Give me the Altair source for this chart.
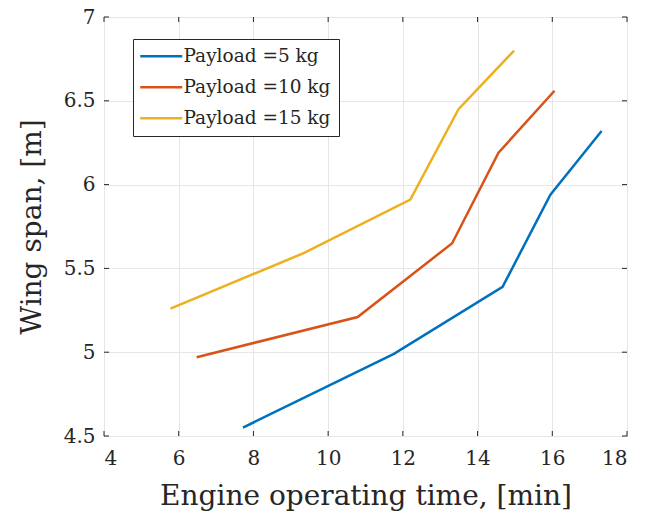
import altair as alt
import pandas as pd

series_names = ["Payload =5 kg", "Payload =10 kg", "Payload =15 kg"]
x_5 = [7.72, 11.76, 14.67, 15.95, 17.32]
y_5 = [4.55, 4.99, 5.39, 5.94, 6.32]
x_10 = [6.48, 10.79, 13.32, 14.56, 16.06]
y_10 = [4.97, 5.21, 5.65, 6.19, 6.56]
x_15 = [5.78, 9.33, 12.20, 13.49, 14.98]
y_15 = [5.26, 5.59, 5.91, 6.45, 6.80]
colors = ["#0072BD", "#D95319", "#EDB120"]
x_ticks = [4, 6, 8, 10, 12, 14, 16, 18]
y_ticks = [4.5, 5, 5.5, 6, 6.5, 7]

rows = []
for name, xs, ys in zip(series_names, [x_5, x_10, x_15], [y_5, y_10, y_15]):
    for i, (a, b) in enumerate(zip(xs, ys)):
        rows.append({"series": name, "t": a, "span": b, "order": i})
df = pd.DataFrame(rows)

W, H = 523, 419
FONT = "DejaVu Serif"

xscale = alt.Scale(domain=[4, 18], nice=False, zero=False)
yscale = alt.Scale(domain=[4.5, 7], nice=False, zero=False)

lines = alt.Chart(df).mark_line(strokeWidth=2.5).encode(
    x=alt.X("t:Q", scale=xscale,
            axis=alt.Axis(title="Engine operating time, [min]", values=x_ticks,
                          tickSize=0, labelPadding=12, titlePadding=14,
                          labelFontSize=20, titleFontSize=28,
                          labelFont=FONT, titleFont=FONT, titleFontWeight="normal",
                          labelColor="#262626", titleColor="#262626",
                          gridColor="#e6e6e6", domain=False)),
    y=alt.Y("span:Q", scale=yscale,
            axis=alt.Axis(title="Wing span, [m]", values=y_ticks, format="~g",
                          tickSize=0, labelPadding=9, titlePadding=17,
                          labelFontSize=20, titleFontSize=28,
                          labelFont=FONT, titleFont=FONT, titleFontWeight="normal",
                          labelColor="#262626", titleColor="#262626",
                          gridColor="#e6e6e6", domain=False)),
    color=alt.Color("series:N", sort=series_names,
                    scale=alt.Scale(domain=series_names, range=colors),
                    legend=alt.Legend(title=None, orient="none", legendX=29, legendY=22,
                                      symbolType="M-3,0H3", symbolSize=196,
                                      symbolStrokeWidth=2.5, symbolOffset=11,
                                      labelFontSize=18.5,
                                      labelFont=FONT, labelColor="#262626",
                                      strokeColor="#262626", fillColor="white",
                                      padding=8, rowPadding=12, labelOffset=13,
                                      labelLimit=300)),
    order="order:Q",
)

xt = pd.DataFrame({"v": x_ticks})
yt = pd.DataFrame({"v": y_ticks})
tick_color = "#262626"
xt_bottom = alt.Chart(xt).mark_rule(color=tick_color, strokeWidth=1).encode(
    x=alt.X("v:Q", scale=xscale), y=alt.value(H), y2=alt.value(H - 5))
xt_top = alt.Chart(xt).mark_rule(color=tick_color, strokeWidth=1).encode(
    x=alt.X("v:Q", scale=xscale), y=alt.value(0), y2=alt.value(5))
yt_left = alt.Chart(yt).mark_rule(color=tick_color, strokeWidth=1).encode(
    y=alt.Y("v:Q", scale=yscale), x=alt.value(0), x2=alt.value(5))
yt_right = alt.Chart(yt).mark_rule(color=tick_color, strokeWidth=1).encode(
    y=alt.Y("v:Q", scale=yscale), x=alt.value(W), x2=alt.value(W - 5))

chart = alt.layer(xt_bottom, xt_top, yt_left, yt_right, lines).properties(
    width=W, height=H,
    autosize=alt.AutoSizeParams(type="none"),
    padding={"left": 96, "top": 9, "right": 10, "bottom": 80},
    background="white",
).configure_view(stroke="#262626", strokeWidth=1)

chart.save("out.html", embed_options={"renderer": "svg", "actions": False})
